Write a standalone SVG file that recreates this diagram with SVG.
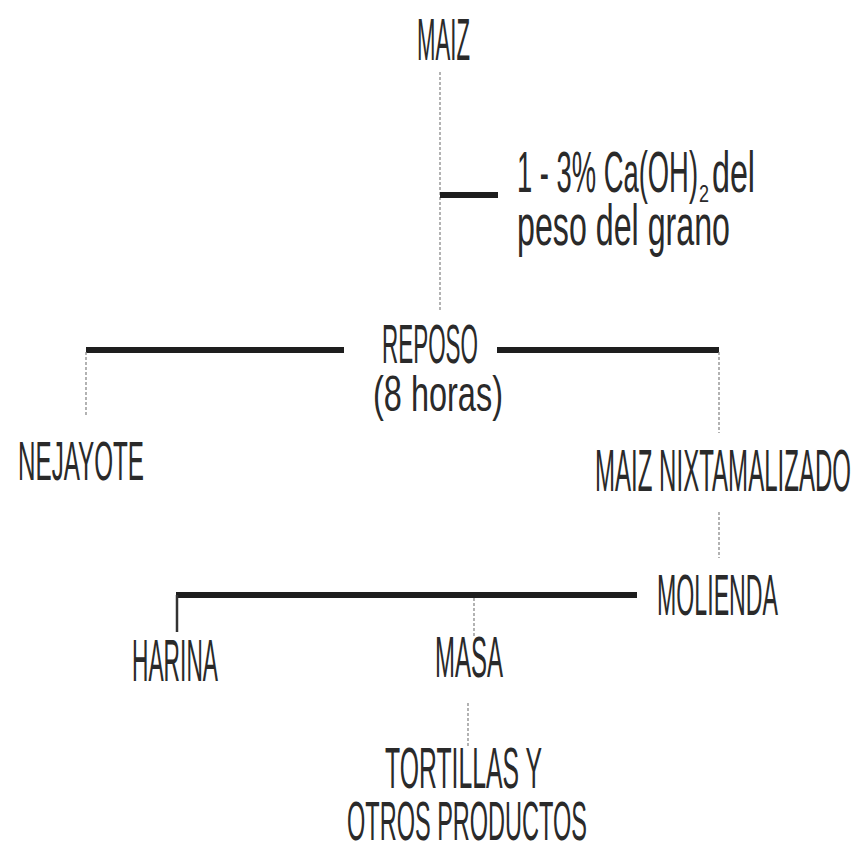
<svg xmlns="http://www.w3.org/2000/svg" width="860" height="843" viewBox="0 0 860 843">
  <style>
    .lbl { font-family: "Liberation Sans", Arial, sans-serif; fill: #2a2a2a; }
    .bar { stroke: #1e1e1e; stroke-width: 6; fill: none; }
    .thin { stroke: #8a8a8a; stroke-width: 1.3; stroke-dasharray: 3 2; fill: none; }
    .stem { stroke: #333; stroke-width: 2.5; fill: none; }
  </style>
  <rect width="860" height="843" fill="#ffffff"/>

  <g id="connectors">
    <!-- MAIZ to REPOSO with lime addition -->
    <line class="thin" x1="440" y1="72" x2="440" y2="312"/>
    <line class="bar" x1="440" y1="195" x2="498" y2="195" stroke-width="5"/>
    <!-- REPOSO split -->
    <line class="bar" x1="86" y1="350" x2="344" y2="350"/>
    <line class="bar" x1="497" y1="350" x2="719" y2="350"/>
    <line class="thin" x1="86" y1="352" x2="86" y2="415"/>
    <line class="thin" x1="719" y1="352" x2="719" y2="433"/>
    <!-- MAIZ NIXTAMALIZADO to MOLIENDA -->
    <line class="thin" x1="719" y1="512" x2="719" y2="558"/>
    <!-- MOLIENDA split -->
    <line class="bar" x1="176" y1="595" x2="637" y2="595"/>
    <line class="stem" x1="177" y1="595" x2="177" y2="632"/>
    <line class="thin" x1="474" y1="598" x2="474" y2="636"/>
    <!-- MASA to TORTILLAS -->
    <line class="thin" x1="468" y1="703" x2="468" y2="747"/>
  </g>

  <g id="maiz">
    <text class="lbl" x="417" y="60" font-size="59" textLength="53" lengthAdjust="spacingAndGlyphs">MAIZ</text>
  </g>

  <g id="cal">
    <text class="lbl" y="192" font-size="57"><tspan x="517" textLength="181" lengthAdjust="spacingAndGlyphs">1 - 3% Ca(OH)</tspan><tspan x="699" y="202" font-size="24" textLength="10" lengthAdjust="spacingAndGlyphs">2</tspan><tspan x="712" y="192" textLength="43" lengthAdjust="spacingAndGlyphs">del</tspan></text>
    <text class="lbl" x="517" y="245" font-size="57" textLength="213" lengthAdjust="spacingAndGlyphs">peso del grano</text>
  </g>

  <g id="reposo">
    <text class="lbl" x="382" y="363" font-size="56" textLength="96" lengthAdjust="spacingAndGlyphs">REPOSO</text>
    <text class="lbl" x="373" y="411" font-size="50" textLength="130" lengthAdjust="spacingAndGlyphs">(8 horas)</text>
  </g>

  <g id="nejayote">
    <text class="lbl" x="18" y="480" font-size="56" textLength="126" lengthAdjust="spacingAndGlyphs">NEJAYOTE</text>
  </g>

  <g id="maiz-nixtamalizado">
    <text class="lbl" x="595" y="491" font-size="59" textLength="256" lengthAdjust="spacingAndGlyphs">MAIZ NIXTAMALIZADO</text>
  </g>

  <g id="molienda">
    <text class="lbl" x="657" y="615" font-size="57" textLength="121" lengthAdjust="spacingAndGlyphs">MOLIENDA</text>
  </g>

  <g id="harina">
    <text class="lbl" x="132" y="681" font-size="60" textLength="86" lengthAdjust="spacingAndGlyphs">HARINA</text>
  </g>

  <g id="masa">
    <text class="lbl" x="435" y="677" font-size="57" textLength="68" lengthAdjust="spacingAndGlyphs">MASA</text>
  </g>

  <g id="tortillas">
    <text class="lbl" x="385" y="788" font-size="58" textLength="157" lengthAdjust="spacingAndGlyphs">TORTILLAS Y</text>
    <text class="lbl" x="347" y="840" font-size="55" textLength="240" lengthAdjust="spacingAndGlyphs">OTROS PRODUCTOS</text>
  </g>
</svg>
